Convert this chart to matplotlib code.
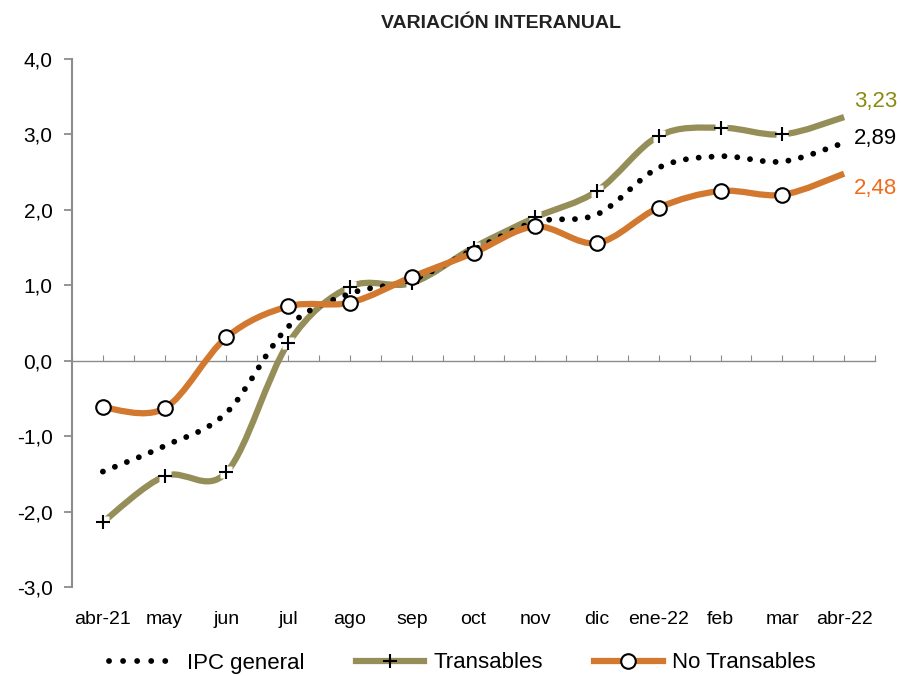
import numpy as np
import matplotlib
matplotlib.use("Agg")
import matplotlib.pyplot as plt
from matplotlib.path import Path
from matplotlib.patches import PathPatch
from matplotlib.lines import Line2D
from matplotlib import font_manager

# data
meses = ["abr-21", "may", "jun", "jul", "ago", "sep", "oct", "nov", "dic",
         "ene-22", "feb", "mar", "abr-22"]
ipc_general = [-1.47, -1.13, -0.69, 0.45, 0.89, 1.07, 1.47, 1.84, 1.94, 2.56, 2.71, 2.64, 2.89]
transables = [-2.14, -1.53, -1.48, 0.23, 0.98, 1.03, 1.50, 1.90, 2.25, 2.98, 3.09, 3.00, 3.23]
no_transables = [-0.62, -0.63, 0.31, 0.72, 0.77, 1.11, 1.43, 1.78, 1.56, 2.03, 2.25, 2.20, 2.48]

OLIVE = "#968E58"
ORANGE = "#D2782F"
GRAY = "#8C8C8C"

names = {f.name for f in font_manager.fontManager.ttflist}
fam = [f for f in ["Liberation Sans Narrow", "Liberation Sans", "DejaVu Sans"] if f in names]
plt.rcParams["font.family"] = fam


def smooth_path(xs, ys):
    # excel-style smoothed line as cubic bezier segments
    n = len(xs)
    verts = [(xs[0], ys[0])]
    codes = [Path.MOVETO]
    for i in range(n - 1):
        a = max(i - 1, 0)
        d = min(i + 2, n - 1)
        c1 = (xs[i] + (xs[i + 1] - xs[a]) / 6, ys[i] + (ys[i + 1] - ys[a]) / 6)
        c2 = (xs[i + 1] - (xs[d] - xs[i]) / 6, ys[i + 1] - (ys[d] - ys[i]) / 6)
        verts += [c1, c2, (xs[i + 1], ys[i + 1])]
        codes += [Path.CURVE4] * 3
    return Path(verts, codes)


fig = plt.figure(figsize=(9.01, 6.76), dpi=100)
ax = fig.add_axes([72 / 901, 1 - 587 / 676, (875 - 72) / 901, (587 - 59) / 676])

x = np.arange(len(meses))

# transables (no marker on the last month)
ax.add_patch(PathPatch(smooth_path(x, transables), fill=False, edgecolor=OLIVE,
                       lw=4.5, capstyle="butt", zorder=3))
ax.plot(x[:-1], transables[:-1], ls="none", marker="s", ms=8, mfc="white", mec="none", zorder=4)
ax.plot(x[:-1], transables[:-1], ls="none", marker="+", ms=10, mew=1.5, color="black", zorder=5)

# ipc general
ax.add_patch(PathPatch(smooth_path(x, ipc_general), fill=False, edgecolor="black",
                       lw=4.2, linestyle=(0, (0.01, 2.2)), capstyle="round", zorder=6))

# no transables
ax.add_patch(PathPatch(smooth_path(x, no_transables), fill=False, edgecolor=ORANGE,
                       lw=4.5, capstyle="butt", zorder=7))
ax.plot(x[:-1], no_transables[:-1], ls="none", marker="o", ms=10.5, mfc="white", mec="black",
        mew=1.5, zorder=8)

ax.set_xlim(-0.5, len(meses) - 0.5)
ax.set_ylim(-3, 4)

# y axis
ax.set_yticks(np.arange(-3, 5, 1))
ax.set_yticklabels([f"{v:.1f}".replace(".", ",") for v in np.arange(-3, 5, 1)], fontsize=15)
ax.spines["left"].set_color(GRAY)
ax.spines["left"].set_linewidth(1.5)
ax.tick_params(axis="y", direction="out", length=6, width=1.3, color=GRAY, pad=8)
for s in ["top", "right", "bottom"]:
    ax.spines[s].set_visible(False)

# category labels at bottom
ax.set_xticks(x)
ax.set_xticklabels(meses, fontsize=14)
ax.tick_params(axis="x", length=0, pad=17)

# category axis crossing at zero
zero_frac = (0 - (-3)) / 7
sec = ax.secondary_xaxis(zero_frac)
sec.set_xticks(np.arange(-0.5, len(meses), 0.5))
sec.set_xticklabels([])
sec.tick_params(axis="x", direction="in", length=4, width=0.8, color=GRAY)
sec.spines["bottom"].set_color(GRAY)
sec.spines["bottom"].set_linestyle((0, (1, 1)))
sec.spines["bottom"].set_linewidth(1.0)

# end labels
ax.annotate("3,23", (x[-1], transables[-1]), xytext=(7, 11), textcoords="offset points",
            fontsize=16, color="#8A8A10", va="center", ha="left", annotation_clip=False)
ax.annotate("2,89", (x[-1], ipc_general[-1]), xytext=(7, 3), textcoords="offset points",
            fontsize=16, color="black", va="center", ha="left", annotation_clip=False)
ax.annotate("2,48", (x[-1], no_transables[-1]), xytext=(7, -11), textcoords="offset points",
            fontsize=16, color="#F26A1B", va="center", ha="left", annotation_clip=False)

fig.text(501 / 901, 1 - 23 / 676, "VARIACIÓN INTERANUAL", ha="center", va="center",
         fontsize=14, fontweight="bold", color="#222222")

handles = [
    Line2D([], [], color="black", lw=4.2, ls=(0, (0.01, 2.4)), dash_capstyle="round"),
    Line2D([], [], color=OLIVE, lw=4.5, marker="+", ms=10, mew=1.5, mec="black"),
    Line2D([], [], color=ORANGE, lw=4.5, marker="o", ms=10.5, mfc="white", mec="black", mew=1.5),
]
fig.legend(handles, ["IPC general", "Transables", "No Transables"], loc="center",
           bbox_to_anchor=(0.513, 1 - 663 / 676), ncol=3, frameon=False, fontsize=16,
           handlelength=3.1, columnspacing=2.3, handletextpad=0.4)

fig.savefig("out.png", dpi=100)
